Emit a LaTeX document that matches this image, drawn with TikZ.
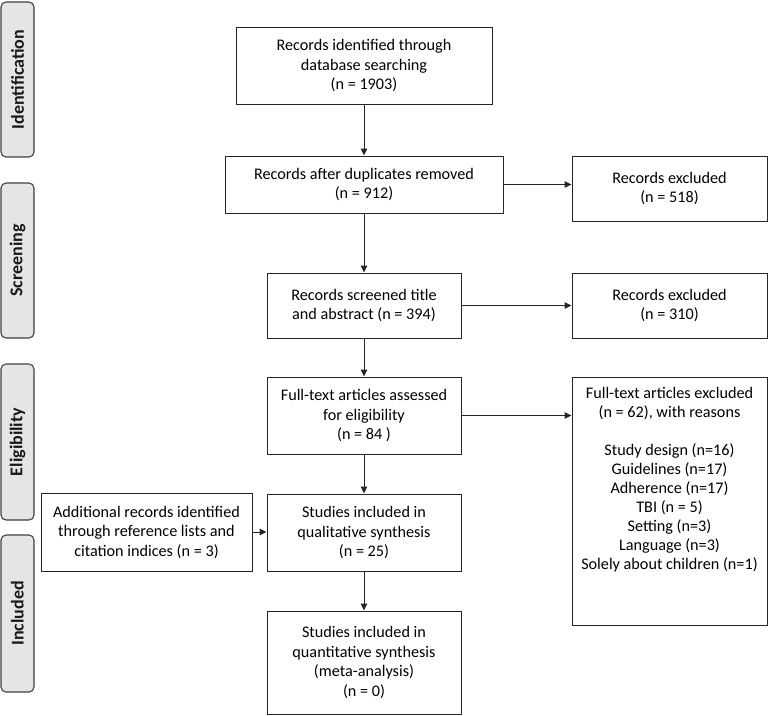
\documentclass[tikz,border=0pt]{standalone}
\usepackage{fontspec}
\setmainfont{Carlito}
\usetikzlibrary{arrows.meta}
\tikzset{
  box/.style={draw=black!85, line width=1pt, fill=white, align=center, inner sep=2pt,
    font=\fontsize{16.2}{19.5}\selectfont},
  phase/.style={draw=black!75, line width=1.1pt, fill=black!10, rounded corners=5pt,
    minimum width=33pt},
  phasetext/.style={rotate=90, font=\bfseries\fontsize{18}{20}\selectfont, text=black!90},
  arr/.style={draw=black!85, line width=1pt, -{Triangle[length=7pt,width=6.5pt]}},
}
\begin{document}
\begin{tikzpicture}[x=1pt,y=-1pt]
\useasboundingbox (0,0) rectangle (771,715);
% phase labels
\node[phase, minimum height=155pt] (pid) at (17.5,79.5) {};
\node[phasetext] (tid) at (pid.center) {Identification};
\node[phase, minimum height=155pt] (psc) at (17.5,260.5) {};
\node[phasetext] (tsc) at (psc.center) {Screening};
\node[phase, minimum height=156pt] (pel) at (17.5,442) {};
\node[phasetext] (tel) at (pel.center) {Eligibility};
\node[phase, minimum height=157pt] (pin) at (17.5,613.5) {};
\node[phasetext] (tin) at (pin.center) {Included};
% main column
\node[box, minimum width=256pt, minimum height=77pt] (b1) at (364,65.5)
  {Records identified through\\ database searching\\ (n = 1903)};
\node[box, minimum width=278pt, minimum height=57pt] (b2) at (364,184.5)
  {Records after duplicates removed\\ (n = 912)};
\node[box, minimum width=195pt, minimum height=65pt] (e1) at (669.5,188.5)
  {Records excluded\\ (n = 518)};
\node[box, minimum width=194pt, minimum height=65pt] (b3) at (364,305.5)
  {Records screened title\\ and abstract (n = 394)};
\node[box, minimum width=195pt, minimum height=65pt] (e2) at (669.5,305.5)
  {Records excluded\\ (n = 310)};
\node[box, minimum width=194pt, minimum height=77pt] (b4) at (364,415.5)
  {Full-text articles assessed\\ for eligibility\\ (n = 84 )};
\node[box, minimum width=195pt, minimum height=248pt] (e3) at (669.5,501) {};
\node[align=center, anchor=north, inner sep=0pt, font=\fontsize{16.2}{19}\selectfont] (e3t) at (669.5,387)
  {Full-text articles excluded\\ (n = 62), with reasons\\[19pt]
   Study design (n=16)\\ Guidelines (n=17)\\ Adherence (n=17)\\ TBI (n = 5)\\
   Setting (n=3)\\ Language (n=3)\\ Solely about children (n=1)};
\node[box, minimum width=211pt, minimum height=78pt] (ad) at (146.5,532)
  {Additional records identified\\ through reference lists and\\ citation indices (n = 3)};
\node[box, minimum width=194pt, minimum height=77pt] (b5) at (364,532.5)
  {Studies included in\\ qualitative synthesis\\ (n = 25)};
\node[box, minimum width=194pt, minimum height=103pt] (b6) at (364,662.5)
  {Studies included in\\ quantitative synthesis\\ (meta-analysis)\\ (n = 0)};
% connectors
\draw[arr] (b1) -- (b2);
\draw[arr] (b2) -- (b3);
\draw[arr] (b3) -- (b4);
\draw[arr] (b4) -- (b5);
\draw[arr] (b5) -- (b6);
\draw[arr] (b2.east) -- (b2.east -| e1.west);
\draw[arr] (b3.east) -- (b3.east -| e2.west);
\draw[arr] (b4.east) -- (b4.east -| e3.west);
\draw[arr] (ad.east) -- (ad.east -| b5.west);
\end{tikzpicture}
\end{document}
